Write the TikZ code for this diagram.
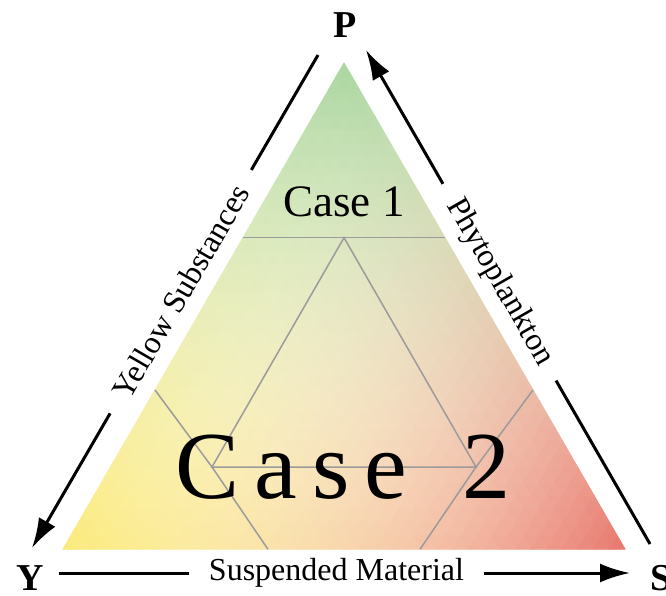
\documentclass[tikz,border=0pt]{standalone}
\usepackage{fontspec}
\setmainfont{Liberation Serif}
\usetikzlibrary{arrows.meta,positioning}
\definecolor{gridgray}{RGB}{155,155,155}
\tikzset{
    corner label/.style={font=\fontsize{38}{38}\selectfont\bfseries, inner sep=0pt, anchor=base},
    side arrow/.style={line width=3pt, -{Latex[length=30pt,width=19pt]}},
    side label/.style={fill=white, sloped, inner xsep=20pt, inner ysep=0pt, font=\fontsize{32}{32}\selectfont},
    grid line/.style={draw=gridgray, line width=1.5pt},
    cell/.style={fill=cellcolor, draw=cellcolor, line width=0.6pt, line join=round},
    case small/.style={font=\fontsize{45}{45}\selectfont, inner sep=0pt, anchor=base},
    case big/.style={font=\fontsize{96}{96}\selectfont\addfontfeature{LetterSpace=15.5}, inner sep=0pt, anchor=base west}
}
% colour of one cell from its P and S share (green top, yellow left, red right, pale middle)
\newcommand\mixcell[2]{%
  \pgfmathsetmacro\mixP{#1}\pgfmathsetmacro\mixS{#2}\pgfmathsetmacro\mixY{1-\mixP-\mixS}%
  \pgfmathsetmacro\mixM{2*(\mixP*\mixY+\mixY*\mixS+\mixS*\mixP)}%
  \pgfmathtruncatemacro\cellR{\mixP*\mixP*170+\mixY*\mixY*251+\mixS*\mixS*232+\mixM*255}%
  \pgfmathtruncatemacro\cellG{\mixP*\mixP*214+\mixY*\mixY*234+\mixS*\mixS*120+\mixM*251}%
  \pgfmathtruncatemacro\cellB{\mixP*\mixP*160+\mixY*\mixY*123+\mixS*\mixS*110+\mixM*228}%
  \definecolor{cellcolor}{RGB}{\cellR,\cellG,\cellB}}
\def\rows{36}
\def\cw{15.628}
\def\ch{13.517}

\begin{document}
\begin{tikzpicture}[x=1pt, y=-1pt]
    \useasboundingbox (0,0) rectangle (666,595);

    % shaded triangle
    \foreach \i in {0,...,35}{
        \foreach \j in {0,...,\i}{
            \mixcell{1-(\i+2/3)/\rows}{(\j+1/3)/\rows}
            \path[cell] ({344+(\j-\i/2)*\cw},{62.7+\i*\ch}) -- ({344+(\j-\i/2-0.5)*\cw},{62.7+(\i+1)*\ch})
                -- ({344+(\j-\i/2+0.5)*\cw},{62.7+(\i+1)*\ch}) -- cycle;
            \ifnum\j<\i
                \mixcell{1-(\i+1/3)/\rows}{(\j+2/3)/\rows}
                \path[cell] ({344+(\j-\i/2)*\cw},{62.7+\i*\ch}) -- ({344+(\j-\i/2+1)*\cw},{62.7+\i*\ch})
                    -- ({344+(\j-\i/2+0.5)*\cw},{62.7+(\i+1)*\ch}) -- cycle;
            \fi
        }
    }

    % case borders
    \coordinate (top left) at (242.8,237.7);
    \coordinate (top right) at (445.2,237.7);
    \coordinate (inner top) at (344,237.7);
    \coordinate (inner left) at (212,467);
    \coordinate (inner right) at (476,467);
    \draw[grid line] (top left) -- (top right);
    \draw[grid line] (inner top) -- (inner left) -- (inner right) -- cycle;
    \draw[grid line] (155,390) -- (inner left) -- (268,549.3);
    \draw[grid line] (533,390) -- (inner right) -- (420,549.3);

    \node[case small] (case1) at (344,216.5) {Case 1};
    \node[case big] (case2) at (175.5,498) {Case\hspace{17pt} 2};

    % corners
    \node[corner label] (P) at (345,37) {P};
    \node[corner label] (Y) at (30,590) {Y};
    \node[corner label] (S) at (661.5,590) {S};

    % sides
    \coordinate (ys from) at (318,55);
    \coordinate (ys to) at (32,548);
    \coordinate (ps from) at (650,544);
    \coordinate (ps to) at (366,50);
    \coordinate (sm from) at (59,573);
    \coordinate (sm to) at (630,573);
    \draw[side arrow] (ys from) -- node[side label, pos=0.48] (yellow) {Yellow Substances} (ys to);
    \draw[side arrow] (ps from) -- node[side label, pos=0.53] (phyto) {Phytoplankton} (ps to);
    \draw[side arrow] (sm from) -- node[side label, pos=0.486] (susp) {Suspended Material} (sm to);
\end{tikzpicture}
\end{document}
